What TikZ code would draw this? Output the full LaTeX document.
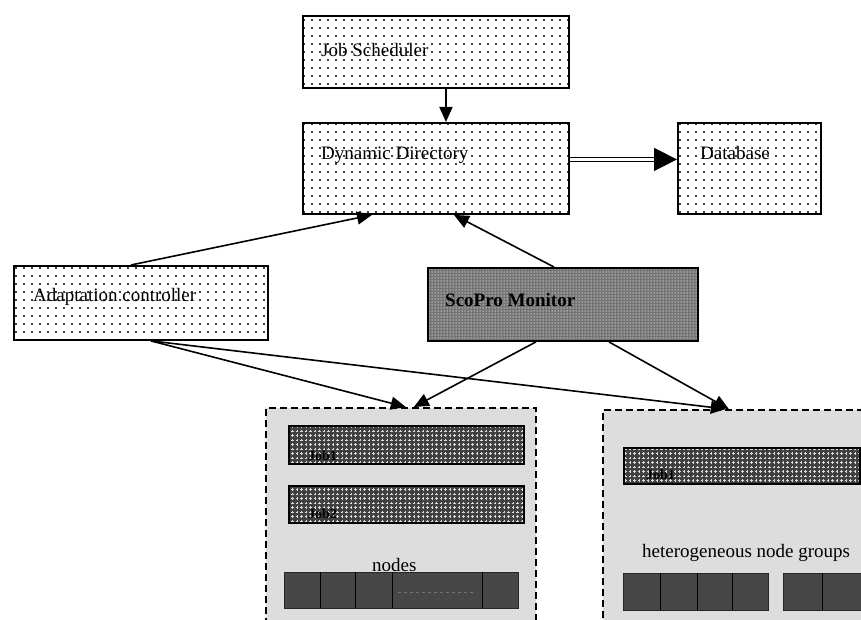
\documentclass[tikz,border=0pt]{standalone}
\usepackage{fontspec}
\setmainfont{Liberation Serif}
\usetikzlibrary{arrows.meta,patterns,calc}
\pgfdeclarepatternformonly{sdots}{\pgfqpoint{-1.5pt}{-1.5pt}}{\pgfqpoint{1.5pt}{1.5pt}}{\pgfqpoint{8pt}{8pt}}{\pgfpathcircle{\pgfqpoint{0pt}{0pt}}{1.1pt}\pgfusepath{fill}}
\pgfdeclarepatternformonly{ddots}{\pgfqpoint{-1pt}{-1pt}}{\pgfqpoint{1pt}{1pt}}{\pgfqpoint{3pt}{3pt}}{\pgfpathcircle{\pgfqpoint{0pt}{0pt}}{0.75pt}\pgfusepath{fill}}
\pgfdeclarepatternformonly{plusses}{\pgfqpoint{-2pt}{-2pt}}{\pgfqpoint{2pt}{2pt}}{\pgfqpoint{4.5pt}{4.5pt}}{\pgfsetlinewidth{0.8pt}\pgfpathmoveto{\pgfqpoint{-1.4pt}{0pt}}\pgfpathlineto{\pgfqpoint{1.4pt}{0pt}}\pgfpathmoveto{\pgfqpoint{0pt}{-1.4pt}}\pgfpathlineto{\pgfqpoint{0pt}{1.4pt}}\pgfusepath{stroke}}
\tikzset{
  box/.style={draw, line width=1.9pt, preaction={fill=white}, pattern=sdots, pattern color=black, anchor=north west, inner sep=0pt},
  darkbox/.style={draw, line width=1.9pt, preaction={fill=black!55}, pattern=ddots, pattern color=white!80!black, anchor=north west, inner sep=0pt},
  lbl/.style={anchor=west, inner sep=0pt, font=\fontsize{19}{22}\selectfont},
  group/.style={draw, dashed, dash pattern=on 7pt off 4pt, line width=1.6pt, fill=gray!27, anchor=north west, inner sep=0pt},
  jobbar/.style={draw, line width=1.6pt, preaction={fill=black!75}, pattern=plusses, pattern color=white!85!black, anchor=north west, inner sep=0pt},
  joblbl/.style={anchor=west, inner sep=0pt, font=\fontsize{14}{16}\selectfont\bfseries, text=black},
  nodebar/.style={draw=black!85, line width=1pt, fill=black!72, anchor=north west, inner sep=0pt},
  arr/.style={line width=1.6pt, -{Triangle[length=15pt,width=13pt]}},
  dblarr/.style={line width=1.4pt, double, double distance=2.6pt, -{Triangle[length=23pt,width=23pt]}},
}
\begin{document}
\begin{tikzpicture}[x=1pt,y=-1pt]
\useasboundingbox (0,0) rectangle (861,620);
\clip (0,0) rectangle (861,620);
% top boxes
\node[box, minimum width=266, minimum height=72] (js) at (302,15) {};
\node[lbl] (jst) at (321,50) {Job Scheduler};
\node[box, minimum width=266, minimum height=91] (dd) at (302,122) {};
\node[lbl] (ddt) at (321,155) {Dynamic Directory};
\node[box, minimum width=143, minimum height=91] (db) at (677,122) {};
\node[lbl] (dbt) at (700,153) {Database};
\node[box, minimum width=254, minimum height=74] (ac) at (13,265) {};
\node[lbl] (act) at (33,297) {Adaptation controller};
\node[darkbox, minimum width=270, minimum height=73] (sp) at (427,267) {};
\node[lbl, font=\fontsize{19}{22}\selectfont\bfseries] (spt) at (445,300) {ScoPro Monitor};
% groups
\node[group, minimum width=270, minimum height=240] (gl) at (265,407) {};
\node[group, minimum width=280, minimum height=240] (gr) at (602,409) {};
% job bars
\node[jobbar, minimum width=235, minimum height=38] (j1) at (288,425) {};
\node[joblbl] (j1t) at (308,456) {Job1};
\node[jobbar, minimum width=235, minimum height=37] (j2) at (288,485) {};
\node[joblbl] (j2t) at (308,514) {Job2};
\node[jobbar, minimum width=236, minimum height=36] (j3) at (623,447) {};
\node[joblbl] (j3t) at (646,475) {Job1};
% node bars
\node[lbl] (nt) at (372,565) {nodes};
\node[nodebar, minimum width=234, minimum height=36] (nb1) at (284,572) {};
\foreach \x in {320,355,392,482} \draw[line width=1pt] (\x,572) -- (\x,608);
\draw[black!55, dashed, line width=0.8pt] (398,592) -- (476,592);
\node[lbl] (ht) at (642,553) {heterogeneous node groups};
\node[nodebar, minimum width=145, minimum height=37] (nb2) at (623,573) {};
\foreach \x in {660,697,732} \draw[line width=1pt] (\x,573) -- (\x,610);
\node[nodebar, minimum width=80, minimum height=37] (nb3) at (783,573) {};
\draw[line width=1pt] (822,573) -- (822,610);
% connectors
\draw[arr] ($(js.south)+(10,0)$) -- ($(dd.north)+(10,0)$);
\draw[dblarr] ($(dd.east)+(0,-9)$) -- ($(db.west)+(0,-9)$);
\draw[arr] ($(ac.north)+(-10,0)$) -- ($(dd.south west)+(70,0)$);
\draw[arr] ($(sp.north)+(-9,0)$) -- ($(dd.south)+(18,0)$);
\draw[arr] ($(ac.south)+(10,0)$) -- ($(gl.north)+(5,0)$);
\draw[arr] ($(ac.south)+(10,0)$) -- ($(gr.north)+(-17,0)$);
\draw[arr] ($(sp.south)+(-27,0)$) -- ($(gl.north)+(13,0)$);
\draw[arr] ($(sp.south)+(46,0)$) -- ($(gr.north)+(-14,0)$);
\end{tikzpicture}
\end{document}
